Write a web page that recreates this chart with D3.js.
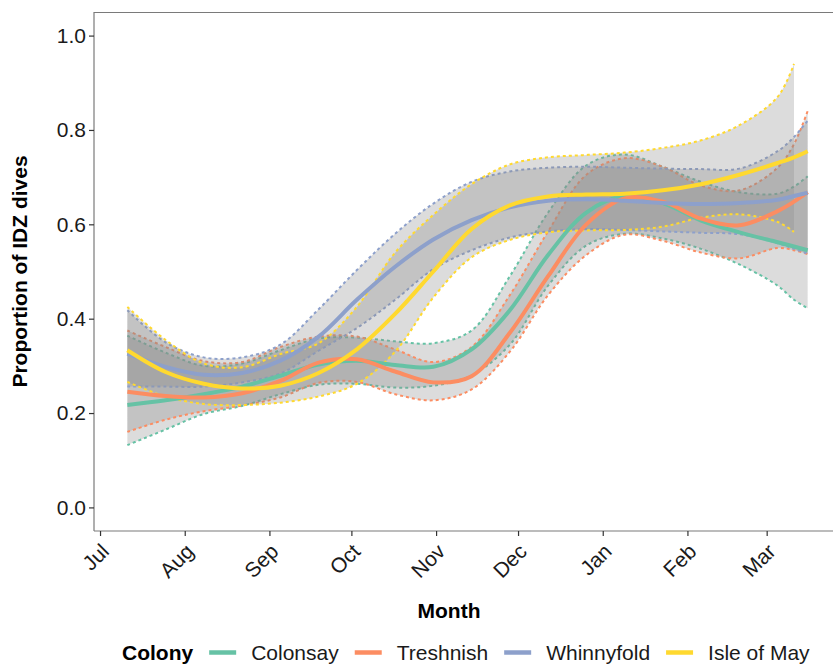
<!DOCTYPE html>
<html><head><meta charset="utf-8">
<script src="https://cdn.jsdelivr.net/npm/d3@7"></script>
<style>body{margin:0;background:#fff}svg{display:block;font-family:"Liberation Sans",Arial,sans-serif}</style>
</head><body><svg id="c" width="833" height="664"></svg>
<script>
// ---- data ----
const dates = ["2019-07-11","2019-07-25","2019-08-08","2019-08-22","2019-09-05","2019-09-19","2019-10-03","2019-10-17","2019-10-31","2019-11-14","2019-11-28","2019-12-12","2019-12-26","2020-01-09","2020-01-23","2020-02-06","2020-02-20","2020-03-05","2020-03-11","2020-03-16"];
const colonies = ["Colonsay","Treshnish","Whinnyfold","Isle of May"];
const colors = ["#66C2A5","#FC8D62","#8DA0CB","#FFD92F"];
const colonsayMean  = [0.217,0.227,0.240,0.256,0.279,0.303,0.311,0.302,0.298,0.335,0.418,0.535,0.625,0.660,0.645,0.608,0.583,0.562,0.553,0.545];
const colonsayUpper = [0.364,0.328,0.300,0.305,0.333,0.358,0.360,0.352,0.348,0.375,0.490,0.625,0.725,0.748,0.722,0.690,0.668,0.665,0.680,0.702];
const colonsayLower = [0.132,0.165,0.198,0.215,0.240,0.260,0.262,0.254,0.258,0.280,0.345,0.470,0.555,0.580,0.570,0.548,0.515,0.470,0.440,0.422];
const treshnishMean  = [0.245,0.236,0.233,0.242,0.268,0.307,0.314,0.288,0.265,0.278,0.370,0.490,0.600,0.655,0.648,0.612,0.598,0.628,0.648,0.668];
const treshnishUpper = [0.375,0.340,0.310,0.308,0.340,0.362,0.362,0.335,0.308,0.340,0.450,0.585,0.705,0.740,0.722,0.682,0.672,0.720,0.770,0.840];
const treshnishLower = [0.160,0.186,0.204,0.216,0.233,0.264,0.266,0.240,0.227,0.250,0.330,0.450,0.535,0.578,0.565,0.540,0.528,0.550,0.545,0.537];
const whinnyfoldMean  = [0.326,0.298,0.281,0.285,0.311,0.362,0.440,0.510,0.568,0.609,0.636,0.650,0.653,0.650,0.645,0.643,0.645,0.652,0.660,0.667];
const whinnyfoldUpper = [0.418,0.350,0.318,0.318,0.345,0.420,0.503,0.580,0.644,0.690,0.712,0.720,0.722,0.720,0.718,0.717,0.718,0.755,0.785,0.820];
const whinnyfoldLower = [0.256,0.256,0.256,0.265,0.284,0.332,0.380,0.440,0.505,0.545,0.572,0.585,0.590,0.588,0.585,0.582,0.579,0.560,0.548,0.538];
const mayMean  = [0.333,0.287,0.262,0.252,0.258,0.285,0.335,0.410,0.500,0.590,0.640,0.659,0.663,0.665,0.672,0.685,0.705,0.730,0.742,0.755];
const mayUpper = [0.425,0.355,0.305,0.297,0.325,0.348,0.425,0.540,0.620,0.685,0.727,0.742,0.747,0.752,0.762,0.778,0.810,0.870,0.940,null];
const mayLower = [0.266,0.235,0.219,0.217,0.222,0.235,0.262,0.330,0.445,0.530,0.567,0.583,0.587,0.588,0.595,0.614,0.621,0.605,0.584,null];
const yTicks = [0,0.2,0.4,0.6,0.8,1.0];
const monthLabels = ["Jul","Aug","Sep","Oct","Nov","Dec","Jan","Feb","Mar"];

const means = [colonsayMean, treshnishMean, whinnyfoldMean, mayMean];
const uppers = [colonsayUpper, treshnishUpper, whinnyfoldUpper, mayUpper];
const lowers = [colonsayLower, treshnishLower, whinnyfoldLower, mayLower];

// ---- layout ----
const L = 94, T = 12, B = 531, R = 842.6;
const svg = d3.select("#c");
const parse = d3.utcParse("%Y-%m-%d");
const dts = dates.map(parse);
const x = d3.scaleUtc().domain([new Date(Date.UTC(2019,5,28,19)), new Date(Date.UTC(2020,2,28,19))]).range([L, R]);
const y = d3.scaleLinear().domain([-0.05, 1.05]).range([B, T]);
const curve = d3.curveCatmullRom.alpha(0.5);

svg.append("line").attr("x1",L).attr("x2",833).attr("y1",T+0.5).attr("y2",T+0.5).attr("stroke","#7a7a7a").attr("stroke-width",1.2);

// ribbons
colonies.forEach((c,i)=>{
  const data = dts.map((d,k)=>({d, m:means[i][k], u:uppers[i][k], l:lowers[i][k]}));
  const rib = data.filter(p=>p.u!=null && p.l!=null);
  svg.append("path").datum(rib)
    .attr("d", d3.area().x(p=>x(p.d)).y0(p=>y(p.l)).y1(p=>y(p.u)).curve(curve))
    .attr("fill","#8c8c8c").attr("fill-opacity",0.3).attr("stroke","none");
  ["u","l"].forEach(key=>{
    svg.append("path").datum(rib)
      .attr("d", d3.line().x(p=>x(p.d)).y(p=>y(p[key])).curve(curve))
      .attr("fill","none").attr("stroke",colors[i]).attr("stroke-width",2)
      .attr("stroke-dasharray","3,3");
  });
});
// mean lines
colonies.forEach((c,i)=>{
  const data = dts.map((d,k)=>({d, m:means[i][k]}));
  svg.append("path").datum(data)
    .attr("d", d3.line().x(p=>x(p.d)).y(p=>y(p.m)).curve(curve))
    .attr("fill","none").attr("stroke",colors[i]).attr("stroke-width",4).attr("stroke-linecap","butt");
});

// axes
const yAxis = svg.append("g").attr("transform",`translate(${L},0)`)
  .call(d3.axisLeft(y).tickValues(yTicks).tickFormat(d3.format(".1f")).tickSize(5).tickPadding(3));
yAxis.select(".domain").attr("d",`M0,${T}V${B}`).attr("stroke","#7a7a7a").attr("stroke-width",1.2);
yAxis.selectAll(".tick line").attr("stroke","#333").attr("stroke-width",1.2);
yAxis.selectAll(".tick text").attr("font-size",21).attr("fill","#1a1a1a");

const monthTicks = d3.utcMonth.range(new Date(Date.UTC(2019,6,1)), new Date(Date.UTC(2020,2,2)));
const xAxis = svg.append("g").attr("transform",`translate(0,${B})`)
  .call(d3.axisBottom(x).tickValues(monthTicks).tickFormat((d,i)=>monthLabels[i]).tickSize(5));
xAxis.select(".domain").attr("d",`M${L},0H833`).attr("stroke","#7a7a7a").attr("stroke-width",1.2);
xAxis.selectAll(".tick line").attr("stroke","#333").attr("stroke-width",1.2);
xAxis.selectAll(".tick text").attr("font-size",21).attr("fill","#1a1a1a")
  .attr("text-anchor","end").attr("dy",null).attr("y",null)
  .attr("transform","translate(-1,11) rotate(-45)").attr("dominant-baseline","hanging");

// axis titles
svg.append("text").attr("transform","translate(27,271.5) rotate(-90)").attr("text-anchor","middle")
  .attr("font-size",21).attr("font-weight","bold").attr("fill","#000").text("Proportion of IDZ dives");
svg.append("text").attr("x",449).attr("y",618).attr("text-anchor","middle")
  .attr("font-size",21).attr("font-weight","bold").attr("fill","#000").text("Month");

// legend
const lg = svg.append("g").attr("transform","translate(122,660)");
const title = lg.append("text").attr("x",0).attr("y",0).attr("font-size",21).attr("font-weight","bold").text("Colony");
let cx = title.node().getComputedTextLength() + 16;
colonies.forEach((c,i)=>{
  lg.append("line").attr("x1",cx).attr("x2",cx+27).attr("y1",-7.5).attr("y2",-7.5)
    .attr("stroke",colors[i]).attr("stroke-width",4.5);
  cx += 27 + 15;
  const t = lg.append("text").attr("x",cx).attr("y",0).attr("font-size",21).attr("fill","#1a1a1a").text(c);
  cx += t.node().getComputedTextLength() + 16;
});
</script></body></html>
